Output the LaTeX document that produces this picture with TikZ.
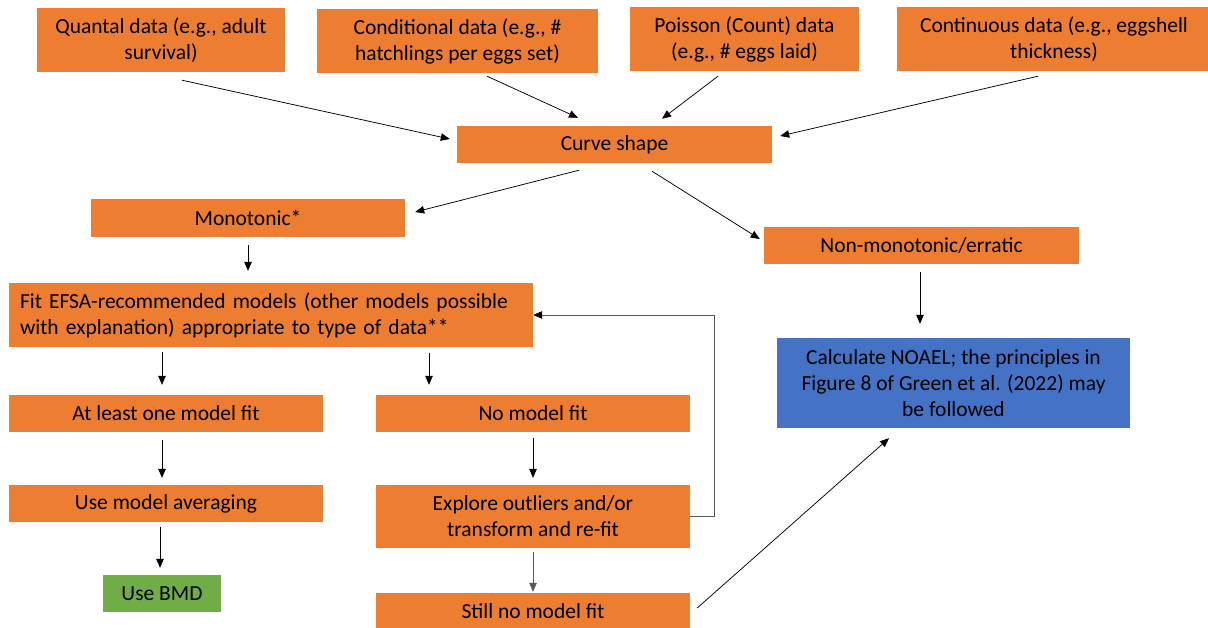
\documentclass[tikz,border=0pt]{standalone}
\usepackage{fontspec}
\setmainfont{Carlito}
\usetikzlibrary{arrows.meta}
\definecolor{boxorange}{HTML}{ED7D31}
\definecolor{boxblue}{HTML}{4472C4}
\definecolor{boxgreen}{HTML}{70AD47}
\definecolor{loopgray}{HTML}{595959}
\begin{document}
\begin{tikzpicture}[x=1pt,y=-1pt,
  box/.style={fill=boxorange, inner sep=0pt, align=center,
    font=\fontsize{21.5}{26}\selectfont},
  flow/.style={-{Triangle[length=9pt,width=7.5pt]}, line width=0.75pt, black},
  loopback/.style={-{Triangle[length=9pt,width=7.5pt,color=black]}, line width=0.9pt, loopgray},
]
\useasboundingbox (0,0) rectangle (1208,627);

% data types
\node[box, minimum width=248pt, minimum height=64pt] (q) at (161,40)
  {Quantal data (e.g., adult\\survival)};
\node[box, minimum width=281pt, minimum height=64pt] (c) at (457.5,41)
  {Conditional data (e.g., \#\\hatchlings per eggs set)};
\node[box, minimum width=229pt, minimum height=64pt] (p) at (744.5,39)
  {Poisson (Count) data\\(e.g., \# eggs laid)};
\node[box, minimum width=314pt, minimum height=64pt] (ct) at (1054,39)
  {Continuous data (e.g., eggshell\\thickness)};

% curve shape and branches
\node[box, minimum width=315pt, minimum height=37pt] (curve) at (614.5,144.5) {Curve shape};
\node[box, minimum width=314pt, minimum height=38pt] (mono) at (248,218) {Monotonic*};
\node[box, minimum width=315pt, minimum height=37pt] (nm) at (921.5,245.5) {Non-monotonic/erratic};

% model fitting
\node[box, text width=502pt, inner xsep=11pt, align=left, minimum height=64pt] (fit) at (271,315)
  {Fit EFSA-recommended models (other models possible\\with explanation) appropriate to type of data**};
\node[box, fill=boxblue, minimum width=353pt, minimum height=90pt] (noael) at (953.5,383)
  {Calculate NOAEL; the principles in\\Figure 8 of Green et al. (2022) may\\be followed};
\node[box, minimum width=314pt, minimum height=37pt] (at) at (166,413.5) {At least one model fit};
\node[box, minimum width=314pt, minimum height=37pt] (nofit) at (533,413.5) {No model fit};
\node[box, minimum width=314pt, minimum height=37pt] (avg) at (166,503.5) {Use model averaging};
\node[box, minimum width=314pt, minimum height=63pt] (explore) at (533,516.5)
  {Explore outliers and/or\\transform and re-fit};
\node[box, fill=boxgreen, minimum width=118pt, minimum height=37pt] (bmd) at (162,593.5) {Use BMD};
\node[box, minimum width=314pt, minimum height=37pt] (still) at (533,611.5) {Still no model fit};

% connectors
\draw[flow] ([shift={(21,8)}]q.south) -- ([shift={(-7,-5.5)}]curve.west);
\draw[flow] ([shift={(29.5,3)}]c.south) -- ([shift={(-36.5,-8)}]curve.north);
\draw[flow] ([shift={(-26.5,5)}]p.south) -- ([shift={(47.5,-7)}]curve.north);
\draw[flow] ([shift={(-16,5)}]ct.south) -- ([shift={(8,-8.5)}]curve.east);
\draw[flow] ([shift={(-35.5,7)}]curve.south) -- ([shift={(10,-6)}]mono.east);
\draw[flow] ([shift={(37.5,8)}]curve.south) -- ([shift={(-4,-6.5)}]nm.west);
\draw[flow] ([shift={(0,8)}]mono.south) -- ([shift={(-23,-12)}]fit.north);
\draw[flow] ([shift={(-1.5,8)}]nm.south) -- ([shift={(-33.5,-14)}]noael.north);
\draw[flow] ([shift={(-109,5)}]fit.south) -- ([shift={(-4,-10)}]at.north);
\draw[flow] ([shift={(158,6)}]fit.south) -- ([shift={(-104,-10)}]nofit.north);
\draw[flow] ([shift={(-4,8)}]at.south) -- ([shift={(-4,-7)}]avg.north);
\draw[flow] ([shift={(-6,5)}]avg.south) -- ([shift={(-2,-7)}]bmd.north);
\draw[flow] ([shift={(0,6)}]nofit.south) -- ([shift={(0,-7)}]explore.north);
\draw[flow, draw=loopgray] ([shift={(0,4)}]explore.south) -- ([shift={(0,-1)}]still.north);
\draw[loopback] (explore.east) -- ++(24,0) |- (fit.east);
\draw[flow] ([shift={(7,-3.5)}]still.east) -- ([shift={(-64.5,10)}]noael.south);
\end{tikzpicture}
\end{document}
